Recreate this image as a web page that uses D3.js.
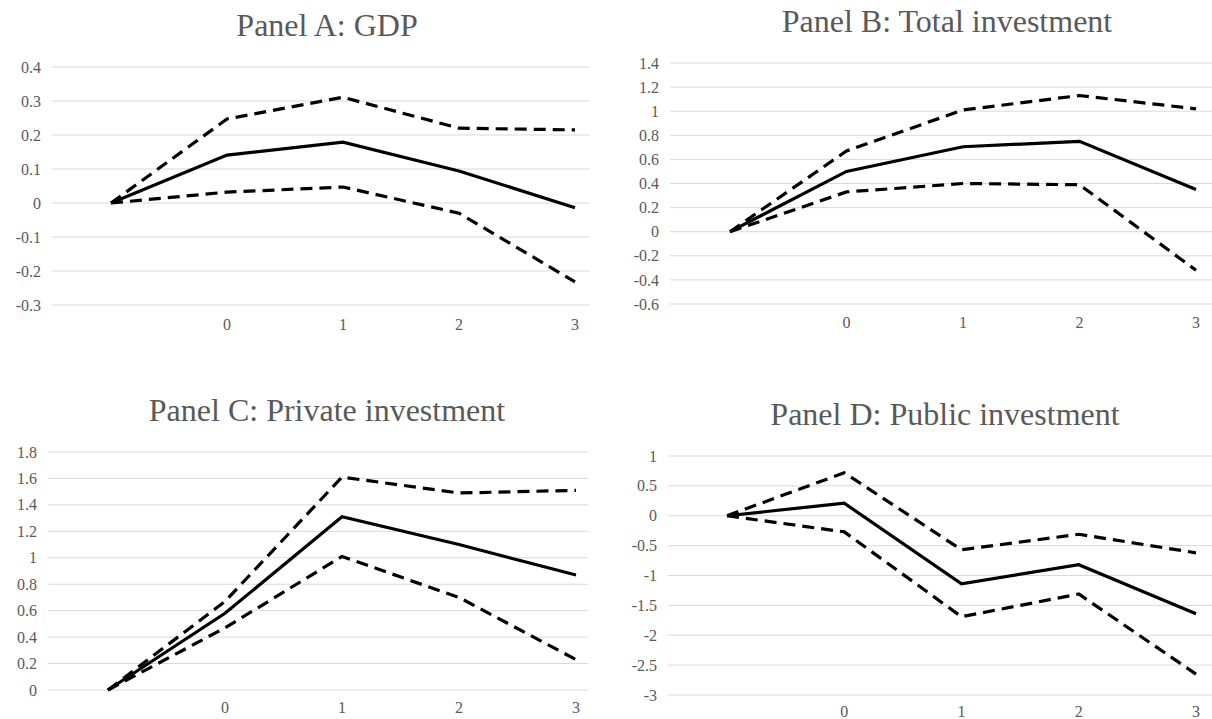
<!DOCTYPE html>
<html>
  <head>
    <meta charset="utf-8" />
    <title>Impulse responses</title>
    <script src="https://d3js.org/d3.v7.min.js"></script>
    <style>
      body { margin: 0; background: #fff; }
      svg { display: block; }
      .title { font-family: "Liberation Serif", "Times New Roman", serif; font-size: 32px; fill: #595959; }
      .tick-label { font-family: "Liberation Serif", "Times New Roman", serif; font-size: 16px; fill: #595959; }
    </style>
  </head>
  <body>
    <svg width="1212" height="719" id="chart"></svg>
    <script>
      // horizon categories (first one has no label)
      const horizons = [-1, 0, 1, 2, 3];
      const xLabels = ["", "0", "1", "2", "3"];

      // Panel A: GDP
      const gdpMean  = [0, 0.141, 0.179, 0.094, -0.014];
      const gdpUpper = [0, 0.247, 0.311, 0.220, 0.215];
      const gdpLower = [0, 0.032, 0.047, -0.030, -0.232];
      const gdpTicks = [0.4, 0.3, 0.2, 0.1, 0, -0.1, -0.2, -0.3];

      // Panel B: Total investment
      const totMean  = [0, 0.50, 0.705, 0.75, 0.35];
      const totUpper = [0, 0.67, 1.01, 1.13, 1.02];
      const totLower = [0, 0.33, 0.40, 0.39, -0.32];
      const totTicks = [1.4, 1.2, 1, 0.8, 0.6, 0.4, 0.2, 0, -0.2, -0.4, -0.6];

      // Panel C: Private investment
      const privMean  = [0, 0.58, 1.31, 1.10, 0.87];
      const privUpper = [0, 0.67, 1.61, 1.49, 1.51];
      const privLower = [0, 0.47, 1.01, 0.70, 0.23];
      const privTicks = [1.8, 1.6, 1.4, 1.2, 1, 0.8, 0.6, 0.4, 0.2, 0];

      // Panel D: Public investment
      const pubMean  = [0, 0.21, -1.14, -0.82, -1.64];
      const pubUpper = [0, 0.72, -0.57, -0.31, -0.62];
      const pubLower = [0, -0.27, -1.69, -1.31, -2.65];
      const pubTicks = [1, 0.5, 0, -0.5, -1, -1.5, -2, -2.5, -3];

      const panels = [
        { title: "Panel A: GDP", tx: 327, ty: 36, mean: gdpMean, upper: gdpUpper, lower: gdpLower, ticks: gdpTicks,
          gx: [52, 590], xr: [111, 575], yr: [305, 67], labelX: 41, labelY: 330 },
        { title: "Panel B: Total investment", tx: 947, ty: 32, mean: totMean, upper: totUpper, lower: totLower, ticks: totTicks,
          gx: [670, 1212], xr: [730, 1196], yr: [304, 63], labelX: 659, labelY: 328 },
        { title: "Panel C: Private investment", tx: 327, ty: 421, mean: privMean, upper: privUpper, lower: privLower, ticks: privTicks,
          gx: [48, 588], xr: [108, 576], yr: [690, 452], labelX: 37, labelY: 713 },
        { title: "Panel D: Public investment", tx: 945, ty: 425, mean: pubMean, upper: pubUpper, lower: pubLower, ticks: pubTicks,
          gx: [668, 1212], xr: [727, 1196], yr: [695, 456], labelX: 657, labelY: 717 }
      ];

      const svg = d3.select("#chart");

      panels.forEach(function(p) {
        const g = svg.append("g");
        const x = d3.scaleLinear().domain([-1, 3]).range(p.xr);
        const y = d3.scaleLinear().domain(d3.extent(p.ticks)).range(p.yr);

        g.append("text")
          .attr("class", "title")
          .attr("x", p.tx)
          .attr("y", p.ty)
          .attr("text-anchor", "middle")
          .text(p.title);

        // gridlines
        g.selectAll(".grid")
          .data(p.ticks)
          .enter().append("line")
          .attr("x1", p.gx[0])
          .attr("x2", p.gx[1])
          .attr("y1", d => y(d))
          .attr("y2", d => y(d))
          .attr("stroke", "#d9d9d9")
          .attr("stroke-width", 1);

        // y tick labels
        g.selectAll(".ylab")
          .data(p.ticks)
          .enter().append("text")
          .attr("class", "tick-label")
          .attr("x", p.labelX)
          .attr("y", d => y(d))
          .attr("dy", "0.35em")
          .attr("text-anchor", "end")
          .text(d => d);

        // x tick labels
        g.selectAll(".xlab")
          .data(horizons)
          .enter().append("text")
          .attr("class", "tick-label")
          .attr("x", d => x(d))
          .attr("y", p.labelY)
          .attr("text-anchor", "middle")
          .text((d, i) => xLabels[i]);

        const line = d3.line()
          .x((d, i) => x(horizons[i]))
          .y(d => y(d));

        [p.upper, p.lower].forEach(function(s) {
          g.append("path")
            .datum(s)
            .attr("d", line)
            .attr("fill", "none")
            .attr("stroke", "#000")
            .attr("stroke-width", 3.2)
            .attr("stroke-dasharray", "12,7");
        });

        g.append("path")
          .datum(p.mean)
          .attr("d", line)
          .attr("fill", "none")
          .attr("stroke", "#000")
          .attr("stroke-width", 3.2);
      });
    </script>
  </body>
</html>
